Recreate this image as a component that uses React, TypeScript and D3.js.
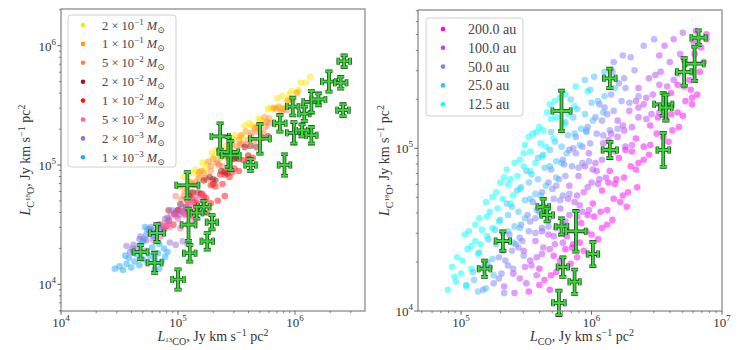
import { useEffect, useRef } from 'react'
import * as d3 from 'd3'

// all coordinates are log10 values
type Pt = [number, number]
// log10 x, log10 y, half error in x (dex), half error in y (dex)
type Cross = [number, number, number, number]
type Seg = { t: string; dy?: number; size?: number; it?: boolean }

const FONT = "'Liberation Serif', 'DejaVu Serif', serif"

// ---------- left panel: disc masses ----------
const massLabels = [['2', '−1'], ['1', '−1'], ['5', '−2'], ['2', '−2'], ['1', '−2'], ['5', '−3'], ['2', '−3'], ['1', '−3']]
const massColors = ['#ffe600', '#ff9a1a', '#ff7f50', '#a01818', '#ff1010', '#ff5fb0', '#9370db', '#1eaaff']

const mass2e1: Pt[] = [
  [5.05, 4.90], [5.09, 4.86], [5.13, 4.93], [5.17, 4.91], [5.21, 5.02], [5.25, 5.01], [5.29, 5.10], [5.33, 5.13],
  [5.37, 5.09], [5.41, 5.16], [5.45, 5.13], [5.49, 5.25], [5.53, 5.24], [5.57, 5.33], [5.61, 5.35], [5.65, 5.32],
  [5.69, 5.39], [5.73, 5.36], [5.77, 5.47], [5.81, 5.47], [5.85, 5.56], [5.89, 5.58], [5.93, 5.54], [5.97, 5.62],
  [6.01, 5.60], [6.05, 5.69], [6.09, 5.69], [6.13, 5.74],
  [5.15, 4.96], [5.23, 4.97], [5.31, 5.07], [5.39, 5.12], [5.47, 5.22], [5.55, 5.23], [5.63, 5.33], [5.71, 5.38],
  [5.79, 5.48], [5.87, 5.48], [5.95, 5.59], [6.03, 5.63]
]
const mass1e1: Pt[] = [
  [5.02, 4.82], [5.06, 4.78], [5.10, 4.86], [5.14, 4.83], [5.18, 4.94], [5.22, 4.93], [5.26, 5.03], [5.30, 5.05],
  [5.34, 5.01], [5.38, 5.08], [5.42, 5.06], [5.46, 5.17], [5.50, 5.16], [5.54, 5.25], [5.58, 5.28], [5.62, 5.24],
  [5.66, 5.31], [5.70, 5.29], [5.74, 5.40], [5.78, 5.39], [5.82, 5.48], [5.86, 5.49], [5.90, 5.47], [5.94, 5.54],
  [5.98, 5.54], [6.02, 5.61],
  [5.12, 4.84], [5.20, 4.95], [5.28, 4.95], [5.36, 5.06], [5.44, 5.10], [5.52, 5.21], [5.60, 5.21], [5.68, 5.32],
  [5.76, 5.36], [5.84, 5.47], [5.92, 5.48]
]
const mass5e2: Pt[] = [
  [4.98, 4.74], [5.03, 4.71], [5.08, 4.79], [5.13, 4.77], [5.18, 4.89], [5.23, 4.89], [5.28, 4.99], [5.33, 5.02],
  [5.38, 4.99], [5.43, 5.07], [5.48, 5.05], [5.53, 5.17], [5.58, 5.17], [5.63, 5.27], [5.68, 5.28], [5.73, 5.27],
  [5.78, 5.35], [5.83, 5.34], [5.88, 5.44], [5.93, 5.46],
  [5.05, 4.74], [5.15, 4.86], [5.25, 4.88], [5.35, 5.00], [5.45, 5.06], [5.55, 5.18], [5.65, 5.20], [5.75, 5.32]
]
const mass2e2: Pt[] = [
  [4.92, 4.62], [4.97, 4.59], [5.02, 4.67], [5.07, 4.65], [5.12, 4.77], [5.17, 4.77], [5.22, 4.87], [5.27, 4.90],
  [5.32, 4.87], [5.37, 4.95], [5.42, 4.93], [5.47, 5.05], [5.52, 5.05], [5.57, 5.15], [5.62, 5.16], [5.67, 5.15],
  [5.72, 5.23], [5.77, 5.24],
  [5.00, 4.62], [5.10, 4.74], [5.20, 4.76], [5.30, 4.88], [5.40, 4.94], [5.50, 5.06], [5.60, 5.08]
]
const mass1e2: Pt[] = [
  [4.84, 4.50], [4.88, 4.46], [4.92, 4.53], [4.96, 4.50], [5.00, 4.62], [5.04, 4.61], [5.08, 4.70], [5.12, 4.72],
  [5.16, 4.68], [5.20, 4.75], [5.24, 4.72], [5.28, 4.83], [5.32, 4.82], [5.36, 4.92], [5.40, 4.92], [5.44, 4.90],
  [5.48, 4.97], [5.52, 4.95], [5.56, 5.04], [5.60, 5.05], [5.64, 5.06],
  [4.90, 4.49], [4.98, 4.59], [5.06, 4.59], [5.14, 4.69], [5.22, 4.74], [5.30, 4.84], [5.38, 4.84], [5.46, 4.94],
  [5.10, 4.62], [5.16, 4.63], [5.22, 4.66], [5.28, 4.68], [5.34, 4.70], [5.40, 4.74], [5.13, 4.57], [5.25, 4.60]
]
const mass5e3: Pt[] = [
  [4.76, 4.42], [4.79, 4.37], [4.82, 4.44], [4.85, 4.40], [4.88, 4.51], [4.91, 4.49], [4.94, 4.58], [4.97, 4.59],
  [5.00, 4.55], [5.03, 4.61], [5.06, 4.58], [5.09, 4.68], [5.12, 4.67], [5.15, 4.74], [5.18, 4.71], [5.21, 4.75],
  [4.81, 4.40], [4.87, 4.49], [4.93, 4.48], [4.99, 4.57], [5.05, 4.60], [5.11, 4.69],
  [5.02, 4.47], [5.08, 4.50], [5.14, 4.53]
]
const mass2e3: Pt[] = [
  [4.56, 4.32], [4.59, 4.27], [4.62, 4.33], [4.65, 4.30], [4.68, 4.40], [4.71, 4.38], [4.74, 4.46], [4.77, 4.48],
  [4.80, 4.43], [4.83, 4.49], [4.86, 4.45], [4.89, 4.55], [4.92, 4.54], [4.95, 4.62], [4.98, 4.61], [5.01, 4.58],
  [5.04, 4.65], [5.07, 4.62],
  [4.61, 4.30], [4.67, 4.38], [4.73, 4.37], [4.79, 4.45], [4.85, 4.48], [4.91, 4.56],
  [4.93, 4.35], [4.98, 4.33], [5.04, 4.36], [5.08, 4.34]
]
const mass1e3: Pt[] = [
  [4.46, 4.13], [4.50, 4.15], [4.53, 4.12], [4.56, 4.17], [4.58, 4.22], [4.60, 4.14], [4.63, 4.19], [4.65, 4.25],
  [4.67, 4.16], [4.70, 4.21], [4.72, 4.28], [4.74, 4.18], [4.76, 4.24], [4.78, 4.31], [4.80, 4.21], [4.83, 4.26],
  [4.86, 4.19], [4.89, 4.23], [4.70, 4.36], [4.73, 4.42], [4.76, 4.46], [4.72, 4.48], [4.79, 4.40], [4.68, 4.33],
  [4.62, 4.27], [4.55, 4.24], [4.84, 4.34], [4.88, 4.30], [4.91, 4.27], [4.84, 4.13], [4.80, 4.12]
]
const massSeries = [mass2e1, mass1e1, mass5e2, mass2e2, mass1e2, mass5e3, mass2e3, mass1e3]

// observed sources, left panel (13CO vs C18O)
const obsLeft: Cross[] = [
  [6.42, 5.87, 0.05, 0.05], [6.29, 5.70, 0.06, 0.085], [6.39, 5.69, 0.05, 0.05], [6.41, 5.46, 0.05, 0.05],
  [5.98, 5.49, 0.05, 0.075], [6.08, 5.43, 0.045, 0.06], [6.14, 5.53, 0.07, 0.09], [6.20, 5.55, 0.06, 0.05],
  [5.87, 5.35, 0.05, 0.07], [5.99, 5.27, 0.06, 0.09], [6.06, 5.29, 0.05, 0.05], [6.14, 5.25, 0.045, 0.07],
  [5.70, 5.22, 0.085, 0.125], [5.36, 5.24, 0.075, 0.11], [5.43, 5.11, 0.085, 0.125], [5.45, 5.08, 0.077, 0.12],
  [5.62, 5.00, 0.045, 0.05], [5.91, 5.00, 0.05, 0.09], [5.08, 4.83, 0.095, 0.11], [5.22, 4.65, 0.05, 0.05],
  [5.16, 4.60, 0.05, 0.05], [5.09, 4.50, 0.06, 0.135], [5.29, 4.52, 0.045, 0.06], [5.25, 4.36, 0.05, 0.07],
  [4.82, 4.43, 0.06, 0.075], [4.68, 4.27, 0.06, 0.06], [4.80, 4.18, 0.06, 0.085], [5.10, 4.26, 0.05, 0.07],
  [5.00, 4.04, 0.05, 0.085]
]

// ---------- right panel: disc radii ----------
const radiusLabels = ['200.0 au', '100.0 au', '50.0 au', '25.0 au', '12.5 au']
const radiusColors = ['#ff00ff', '#bf40ff', '#8080ff', '#40bfff', '#00ffff']

const rad200: Pt[] = [
  [5.52, 4.12], [5.60, 4.16], [5.68, 4.13], [5.60, 4.26], [5.69, 4.22], [5.77, 4.27], [5.71, 4.34], [5.80, 4.38],
  [5.89, 4.33], [5.81, 4.46], [5.91, 4.42], [6.00, 4.47], [5.92, 4.54], [6.02, 4.58], [6.12, 4.53], [6.01, 4.66],
  [6.12, 4.62], [6.22, 4.67], [6.08, 4.74], [6.18, 4.78], [6.28, 4.73], [6.14, 4.86], [6.25, 4.82], [6.34, 4.87],
  [6.21, 4.94], [6.31, 4.98], [6.40, 4.93], [6.34, 5.06], [6.45, 5.02], [6.55, 5.07], [6.45, 5.14], [6.57, 5.18],
  [6.67, 5.13], [6.55, 5.26], [6.66, 5.22], [6.77, 5.27], [6.61, 5.34], [6.71, 5.38], [6.81, 5.33], [6.66, 5.46],
  [6.75, 5.42], [6.83, 5.47], [6.71, 5.54], [6.79, 5.58], [6.86, 5.53], [6.78, 5.66], [6.84, 5.62], [6.88, 5.67],
  [6.80, 5.72], [6.88, 5.70],
  [5.76, 4.31], [5.85, 4.39], [5.86, 4.41], [5.96, 4.49], [5.97, 4.59], [6.08, 4.51], [6.07, 4.61], [6.17, 4.69],
  [6.13, 4.79], [6.24, 4.71], [6.19, 4.81], [6.30, 4.89], [6.26, 4.99], [6.36, 4.91], [6.40, 5.01], [6.50, 5.09],
  [6.51, 5.19], [6.62, 5.11], [6.61, 5.21], [6.72, 5.29], [6.66, 5.39], [6.77, 5.31],
  [5.64, 4.19], [5.73, 4.24], [5.84, 4.29], [5.94, 4.37], [6.05, 4.44], [6.16, 4.56], [6.27, 4.64], [6.35, 4.76],
  [6.44, 4.96], [6.59, 5.04], [6.70, 5.20], [6.76, 5.36]
]
const rad100: Pt[] = [
  [5.33, 4.15], [5.41, 4.11], [5.50, 4.17], [5.40, 4.23], [5.49, 4.27], [5.58, 4.22], [5.48, 4.37], [5.58, 4.33],
  [5.68, 4.38], [5.57, 4.43], [5.67, 4.47], [5.78, 4.42], [5.67, 4.57], [5.78, 4.53], [5.89, 4.58], [5.76, 4.63],
  [5.87, 4.67], [5.98, 4.62], [5.83, 4.77], [5.94, 4.73], [6.05, 4.78], [5.90, 4.83], [6.01, 4.87], [6.11, 4.82],
  [5.98, 4.97], [6.08, 4.93], [6.18, 4.98], [6.09, 5.03], [6.20, 5.07], [6.31, 5.02], [6.20, 5.17], [6.31, 5.13],
  [6.42, 5.18], [6.29, 5.23], [6.40, 5.27], [6.52, 5.22], [6.36, 5.37], [6.47, 5.33], [6.58, 5.38], [6.44, 5.43],
  [6.53, 5.47], [6.63, 5.42], [6.52, 5.57], [6.60, 5.53], [6.68, 5.58], [6.56, 5.63], [6.63, 5.67], [6.70, 5.71],
  [5.53, 4.31], [5.63, 4.39], [5.62, 4.49], [5.72, 4.41], [5.73, 4.51], [5.83, 4.59], [5.82, 4.69], [5.93, 4.61],
  [5.89, 4.71], [6.00, 4.79], [5.95, 4.89], [6.06, 4.81], [6.03, 4.91], [6.13, 4.99], [6.15, 5.09], [6.26, 5.01],
  [6.25, 5.11], [6.36, 5.19], [6.34, 5.29], [6.46, 5.21], [6.42, 5.31], [6.52, 5.39],
  [5.45, 4.20], [5.54, 4.28], [5.62, 4.35], [5.71, 4.46], [5.80, 4.55], [5.91, 4.65], [5.97, 4.76], [6.04, 4.86],
  [6.13, 5.05], [6.24, 5.14], [6.36, 5.25], [6.49, 5.45]
]
const rad50: Pt[] = [
  [5.17, 4.13], [5.25, 4.17], [5.33, 4.11], [5.22, 4.27], [5.31, 4.23], [5.40, 4.26], [5.29, 4.33], [5.39, 4.37],
  [5.48, 4.34], [5.37, 4.47], [5.47, 4.43], [5.57, 4.48], [5.46, 4.53], [5.57, 4.57], [5.67, 4.52], [5.55, 4.67],
  [5.66, 4.63], [5.76, 4.68], [5.62, 4.73], [5.73, 4.77], [5.83, 4.72], [5.69, 4.87], [5.80, 4.83], [5.90, 4.88],
  [5.78, 4.93], [5.88, 4.97], [5.98, 4.92], [5.88, 5.07], [5.99, 5.03], [6.09, 5.08], [5.97, 5.13], [6.08, 5.17],
  [6.20, 5.12], [6.06, 5.27], [6.17, 5.23], [6.29, 5.28], [6.15, 5.33], [6.26, 5.37], [6.36, 5.32], [6.16, 5.47],
  [6.25, 5.43], [6.33, 5.48], [6.17, 5.53], [6.24, 5.57], [6.40, 5.63], [6.48, 5.67],
  [5.34, 4.31], [5.44, 4.39], [5.42, 4.41], [5.52, 4.49], [5.51, 4.59], [5.62, 4.51], [5.60, 4.61], [5.71, 4.69],
  [5.67, 4.79], [5.78, 4.71], [5.75, 4.81], [5.85, 4.89], [5.83, 4.99], [5.93, 4.91], [5.93, 5.01], [6.04, 5.09],
  [6.03, 5.19], [6.14, 5.11], [6.12, 5.21], [6.23, 5.29],
  [5.29, 4.20], [5.36, 4.28], [5.45, 4.45], [5.53, 4.55], [5.63, 4.65], [5.70, 4.75], [5.79, 4.90], [5.86, 5.00],
  [5.96, 5.10], [6.10, 5.25], [6.21, 5.40], [6.30, 5.56]
]
const rad25: Pt[] = [
  [5.04, 4.16], [5.13, 4.12], [5.19, 4.14], [5.09, 4.24], [5.18, 4.28], [5.25, 4.22], [5.14, 4.36], [5.24, 4.32],
  [5.32, 4.37], [5.21, 4.44], [5.32, 4.48], [5.40, 4.42], [5.30, 4.56], [5.41, 4.52], [5.49, 4.57], [5.39, 4.64],
  [5.49, 4.68], [5.58, 4.62], [5.46, 4.76], [5.57, 4.72], [5.65, 4.77], [5.54, 4.84], [5.64, 4.88], [5.73, 4.82],
  [5.63, 4.96], [5.73, 4.92], [5.81, 4.97], [5.72, 5.04], [5.82, 5.08], [5.91, 5.02], [5.80, 5.16], [5.92, 5.12],
  [6.01, 5.17], [5.89, 5.24], [6.00, 5.28], [6.09, 5.22], [5.99, 5.36], [6.10, 5.32], [6.18, 5.37], [6.02, 5.44],
  [6.10, 5.47],
  [5.27, 4.41], [5.36, 4.49], [5.36, 4.59], [5.45, 4.51], [5.44, 4.61], [5.53, 4.69], [5.52, 4.79], [5.61, 4.71],
  [5.59, 4.81], [5.68, 4.89], [5.68, 4.99], [5.77, 4.91], [5.77, 5.01], [5.87, 5.09], [5.86, 5.19], [5.96, 5.11],
  [5.95, 5.21], [6.05, 5.29],
  [5.10, 4.19], [5.20, 4.30], [5.26, 4.50], [5.35, 4.66], [5.43, 4.74], [5.50, 4.86], [5.59, 4.94], [5.69, 5.10],
  [5.84, 5.30], [5.95, 5.42]
]
const rad12: Pt[] = [
  [4.90, 4.13], [4.96, 4.18], [5.04, 4.15], [4.93, 4.27], [5.00, 4.23], [5.08, 4.26], [4.97, 4.33], [5.05, 4.38],
  [5.13, 4.35], [5.03, 4.47], [5.11, 4.43], [5.20, 4.46], [5.11, 4.53], [5.20, 4.58], [5.29, 4.55], [5.19, 4.67],
  [5.28, 4.63], [5.38, 4.66], [5.27, 4.73], [5.36, 4.78], [5.45, 4.75], [5.35, 4.87], [5.43, 4.83], [5.53, 4.86],
  [5.45, 4.93], [5.53, 4.98], [5.62, 4.95], [5.52, 5.07], [5.61, 5.03], [5.71, 5.06], [5.60, 5.13], [5.69, 5.18],
  [5.79, 5.15], [5.68, 5.27], [5.77, 5.23], [5.87, 5.26], [5.80, 5.33], [5.88, 5.38], [5.97, 5.35],
  [5.06, 4.49], [5.15, 4.41], [5.14, 4.57], [5.24, 4.51], [5.22, 4.61], [5.32, 4.69], [5.30, 4.79], [5.40, 4.71],
  [5.38, 4.81], [5.48, 4.89], [5.48, 4.97], [5.57, 4.91], [5.55, 5.09], [5.65, 5.01], [5.63, 5.11], [5.73, 5.19],
  [5.72, 5.29], [5.82, 5.21],
  [4.95, 4.21], [5.01, 4.31], [5.08, 4.40], [5.16, 4.50], [5.24, 4.70], [5.33, 4.82], [5.41, 4.91], [5.49, 5.02],
  [5.58, 5.10], [5.66, 5.22], [5.76, 5.31]
]
const radiusSeries = [rad200, rad100, rad50, rad25, rad12]

// observed sources, right panel (CO vs C18O)
const obsRight: Cross[] = [
  [6.82, 5.68, 0.055, 0.045], [6.79, 5.52, 0.07, 0.105], [6.71, 5.47, 0.055, 0.085], [6.55, 5.27, 0.07, 0.07],
  [6.57, 5.25, 0.045, 0.08], [6.55, 4.99, 0.045, 0.105], [6.14, 5.43, 0.045, 0.06], [5.77, 5.23, 0.07, 0.125],
  [6.14, 4.99, 0.055, 0.05], [5.63, 4.64, 0.045, 0.05], [5.66, 4.59, 0.045, 0.04], [5.77, 4.52, 0.045, 0.05],
  [5.88, 4.49, 0.075, 0.125], [6.01, 4.35, 0.04, 0.075], [5.32, 4.43, 0.055, 0.06], [5.18, 4.26, 0.045, 0.05],
  [5.78, 4.27, 0.04, 0.06], [5.87, 4.18, 0.04, 0.075], [5.75, 4.05, 0.045, 0.075]
]

function rich(text: any, segs: Seg[]) {
  let cur = 0
  segs.forEach(s => {
    const off = s.dy ?? 0
    const ts = text.append('tspan').text(s.t)
    if (off !== cur) ts.attr('dy', off - cur)
    if (s.size) ts.attr('font-size', s.size)
    if (s.it) ts.attr('font-style', 'italic')
    cur = off
  })
}

const tail: Seg[] = [
  { t: ', Jy km s' }, { t: '−1', dy: -5, size: 10 }, { t: ' pc' }, { t: '2', dy: -5, size: 10 }
]
const c18oLabel: Seg[] = [
  { t: 'L', it: true }, { t: 'C', dy: 4, size: 10 }, { t: '18', dy: 0, size: 7 }, { t: 'O', dy: 4, size: 10 }, ...tail
]
const c13oLabel: Seg[] = [
  { t: 'L', it: true }, { t: '13', dy: 1, size: 7 }, { t: 'CO', dy: 4, size: 10 }, ...tail
]
const coLabel: Seg[] = [{ t: 'L', it: true }, { t: 'CO', dy: 4, size: 10 }, ...tail]

interface PanelOpts {
  left: number
  right: number
  top: number
  bottom: number
  xLog: [number, number]
  yLog: [number, number]
  series: Pt[][]
  colors: string[]
  crosses: Cross[]
  xLabel: Seg[]
  xLabelX: number
  yLabelX: number
}

function drawPanel(svg: any, o: PanelOpts) {
  const x = d3.scaleLog().domain([10 ** o.xLog[0], 10 ** o.xLog[1]]).range([o.left, o.right])
  const y = d3.scaleLog().domain([10 ** o.yLog[0], 10 ** o.yLog[1]]).range([o.bottom, o.top])
  const g = svg.append('g')

  // simulated points
  o.series.forEach((pts, i) => {
    g.append('g')
      .selectAll('circle')
      .data(pts)
      .enter()
      .append('circle')
      .attr('cx', (d: Pt) => x(10 ** d[0]))
      .attr('cy', (d: Pt) => y(10 ** d[1]))
      .attr('r', 3.3)
      .attr('fill', o.colors[i])
      .attr('opacity', 0.5)
  })

  // observations with error bars
  o.crosses.forEach(c => {
    const cx = x(10 ** c[0])
    const cy = y(10 ** c[1])
    const xl = x(10 ** (c[0] - c[2]))
    const xr = x(10 ** (c[0] + c[2]))
    const yt = y(10 ** (c[1] + c[3]))
    const yb = y(10 ** (c[1] - c[3]))
    const cap = 3.5
    const d = `M${xl},${cy}H${xr}M${cx},${yt}V${yb}` +
      `M${xl},${cy - cap}V${cy + cap}M${xr},${cy - cap}V${cy + cap}` +
      `M${cx - cap},${yt}H${cx + cap}M${cx - cap},${yb}H${cx + cap}`
    g.append('path').attr('d', d).attr('stroke', '#2a3a2a').attr('stroke-width', 3.7).attr('fill', 'none')
    g.append('path').attr('d', d).attr('stroke', '#33dd33').attr('stroke-width', 2.1).attr('fill', 'none')
  })

  // frame
  g.append('rect')
    .attr('x', o.left).attr('y', o.top)
    .attr('width', o.right - o.left).attr('height', o.bottom - o.top)
    .attr('fill', 'none').attr('stroke', '#8c8c8c').attr('stroke-width', 1.3)

  // ticks
  const tickCol = '#555'
  const xMaj: number[] = []
  const xMin: number[] = []
  for (let e = Math.floor(o.xLog[0]); e <= Math.ceil(o.xLog[1]); e++) {
    if (e >= o.xLog[0] - 1e-6 && e <= o.xLog[1] + 1e-3) xMaj.push(e)
    for (let k = 2; k < 10; k++) {
      const v = e + Math.log10(k)
      if (v > o.xLog[0] && v < o.xLog[1]) xMin.push(v)
    }
  }
  const yMaj: number[] = []
  const yMin: number[] = []
  for (let e = Math.floor(o.yLog[0]); e <= Math.ceil(o.yLog[1]); e++) {
    if (e >= o.yLog[0] - 1e-3 && e <= o.yLog[1] + 1e-6) yMaj.push(e)
    for (let k = 2; k < 10; k++) {
      const v = e + Math.log10(k)
      if (v > o.yLog[0] && v < o.yLog[1]) yMin.push(v)
    }
  }
  xMin.forEach(v => {
    const px = x(10 ** v)
    g.append('line').attr('x1', px).attr('x2', px).attr('y1', o.bottom).attr('y2', o.bottom + 2.2)
      .attr('stroke', tickCol).attr('stroke-width', 0.7)
  })
  yMin.forEach(v => {
    const py = y(10 ** v)
    g.append('line').attr('x1', o.left - 2.2).attr('x2', o.left).attr('y1', py).attr('y2', py)
      .attr('stroke', tickCol).attr('stroke-width', 0.7)
  })
  xMaj.forEach(e => {
    const px = x(10 ** e)
    g.append('line').attr('x1', px).attr('x2', px).attr('y1', o.bottom).attr('y2', o.bottom + 3.8)
      .attr('stroke', tickCol).attr('stroke-width', 0.9)
    const t = g.append('text').attr('x', px).attr('y', o.bottom + 16).attr('text-anchor', 'middle')
      .attr('font-size', 13).attr('fill', '#333')
    rich(t, [{ t: '10' }, { t: String(e), dy: -6, size: 9 }])
  })
  yMaj.forEach(e => {
    const py = y(10 ** e)
    g.append('line').attr('x1', o.left - 3.8).attr('x2', o.left).attr('y1', py).attr('y2', py)
      .attr('stroke', tickCol).attr('stroke-width', 0.9)
    const t = g.append('text').attr('x', o.left - 5).attr('y', py + 5).attr('text-anchor', 'end')
      .attr('font-size', 13).attr('fill', '#333')
    rich(t, [{ t: '10' }, { t: String(e), dy: -6, size: 9 }])
  })

  // axis labels
  const xl = g.append('text').attr('x', o.xLabelX).attr('y', 341).attr('text-anchor', 'middle')
    .attr('font-size', 14).attr('fill', '#333')
  rich(xl, o.xLabel)
  const yl = g.append('text')
    .attr('transform', `translate(${o.yLabelX},${(o.top + o.bottom) / 2}) rotate(-90)`)
    .attr('text-anchor', 'middle').attr('font-size', 14).attr('fill', '#333')
  rich(yl, c18oLabel)
}

export default function App() {
  const svgRef = useRef<SVGSVGElement>(null)

  useEffect(() => {
    if (!svgRef.current) return
    const svg = d3.select(svgRef.current)
    svg.selectAll('*').remove()
    svg.attr('font-family', FONT).style('white-space', 'pre')

    drawPanel(svg, {
      left: 61, right: 365, top: 9, bottom: 311,
      xLog: [4, 6.598], yLog: [3.776, 6.308],
      series: massSeries, colors: massColors, crosses: obsLeft,
      xLabel: c13oLabel, xLabelX: 213, yLabelX: 30
    })
    drawPanel(svg, {
      left: 418, right: 722, top: 10, bottom: 311,
      xLog: [4.67, 7.0], yLog: [4, 5.85],
      series: radiusSeries, colors: radiusColors, crosses: obsRight,
      xLabel: coLabel, xLabelX: 582, yLabelX: 389
    })

    // legend, left panel
    const lg = svg.append('g')
    lg.append('rect').attr('x', 68).attr('y', 15).attr('width', 108).attr('height', 152).attr('rx', 3)
      .attr('fill', '#fff').attr('fill-opacity', 0.85).attr('stroke', '#d0d0d0')
    massLabels.forEach((m, i) => {
      const yy = 25 + i * 18.9
      lg.append('circle').attr('cx', 83).attr('cy', yy).attr('r', 2.3).attr('fill', massColors[i])
      const t = lg.append('text').attr('x', 102).attr('y', yy + 4.5).attr('font-size', 12.5).attr('fill', '#444')
      rich(t, [
        { t: `${m[0]} × 10` }, { t: m[1], dy: -5, size: 9 }, { t: ' ' },
        { t: 'M', it: true }, { t: '⊙', dy: 3, size: 9 }
      ])
    })

    // legend, right panel
    const rg = svg.append('g')
    rg.append('rect').attr('x', 426).attr('y', 18).attr('width', 97).attr('height', 98).attr('rx', 3)
      .attr('fill', '#fff').attr('fill-opacity', 0.85).attr('stroke', '#d0d0d0')
    radiusLabels.forEach((lab, i) => {
      const yy = 29 + i * 18.8
      rg.append('circle').attr('cx', 443).attr('cy', yy).attr('r', 2.3).attr('fill', radiusColors[i])
      rg.append('text').attr('x', 468).attr('y', yy + 5).attr('font-size', 14).attr('fill', '#444').text(lab)
    })
  }, [])

  return (
    <svg
      ref={svgRef}
      width={750}
      height={350}
      style={{ position: 'absolute', left: 0, top: 0, background: '#fff' }}
    />
  )
}
